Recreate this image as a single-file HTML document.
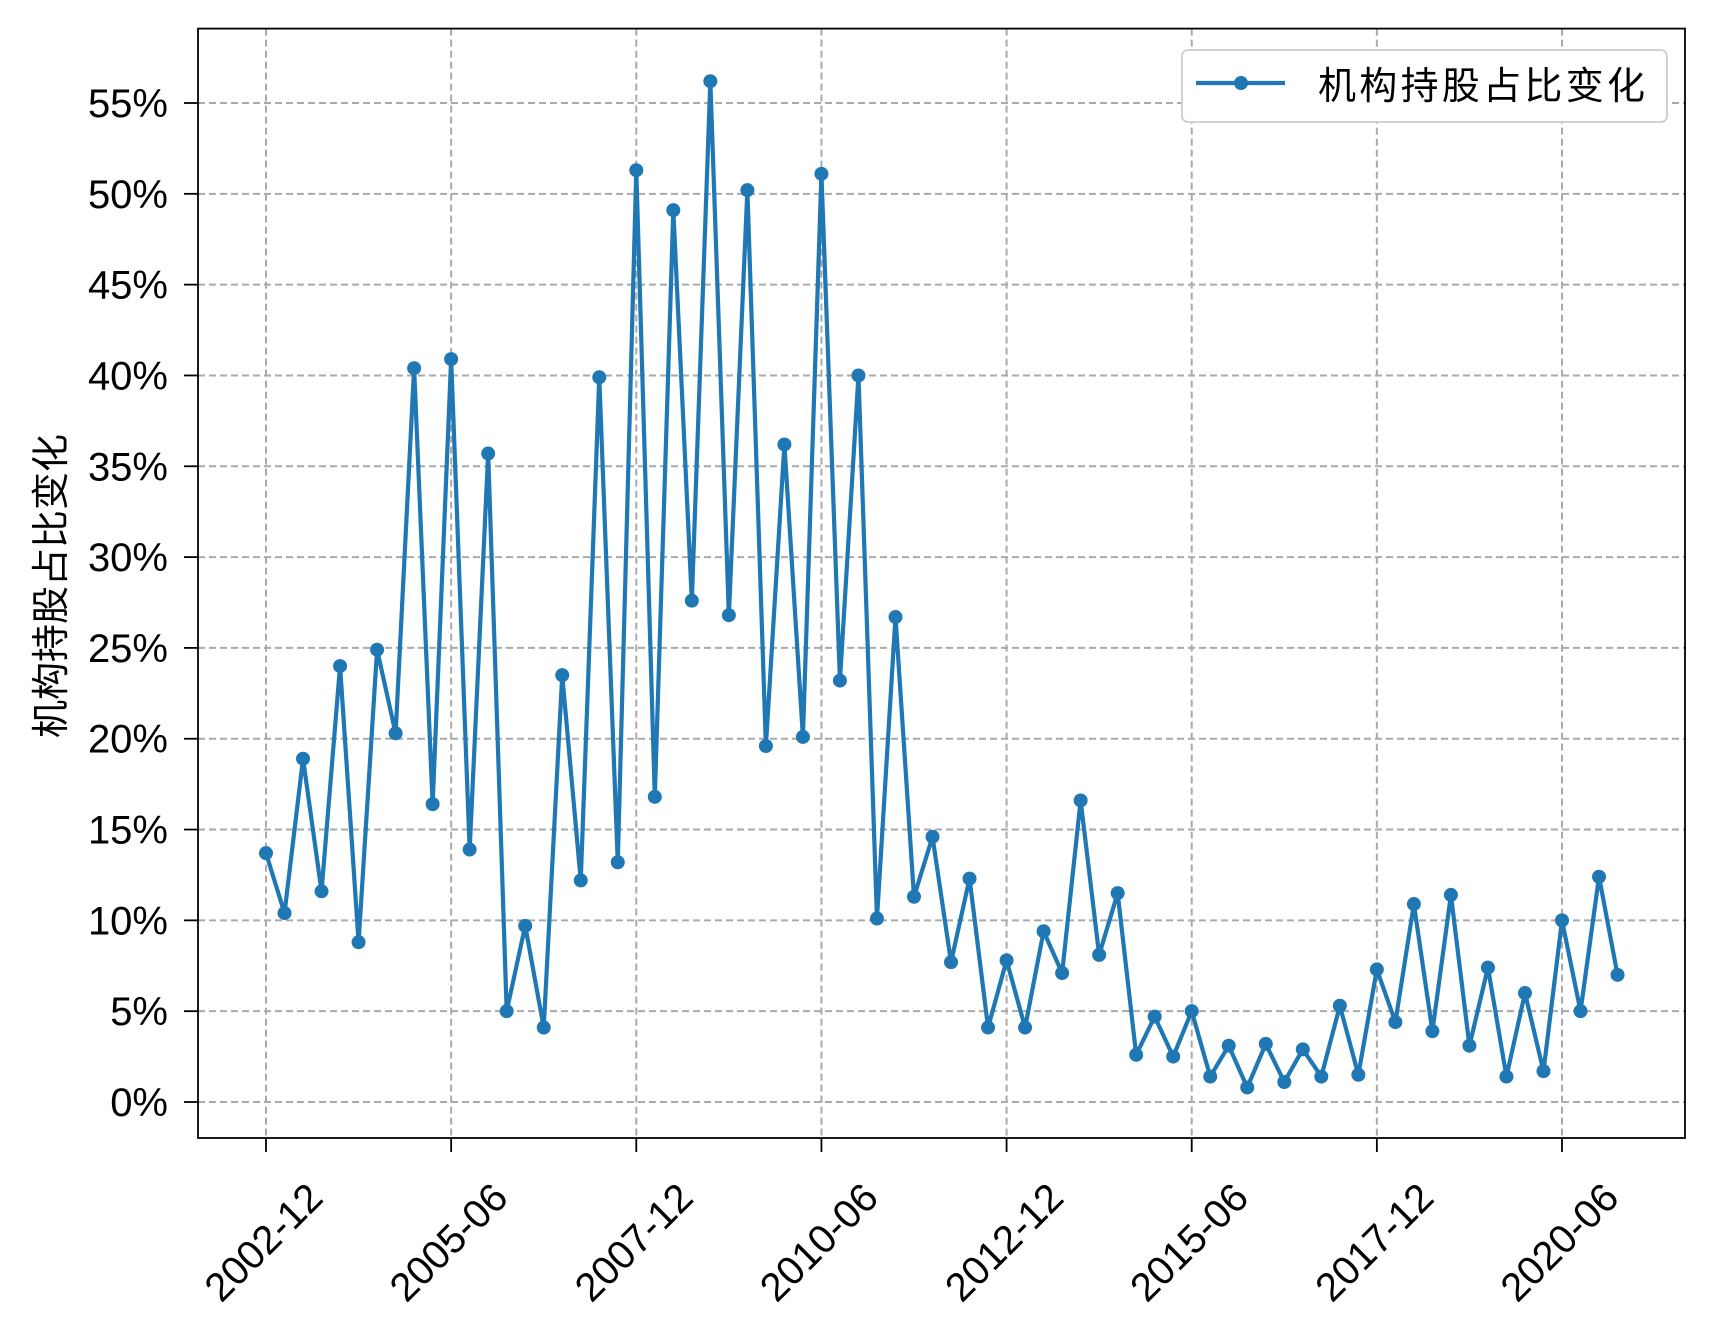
<!DOCTYPE html>
<html><head><meta charset="utf-8"><style>
body{margin:0;background:#fff}
text{font-family:"Liberation Sans","Noto Sans CJK SC",sans-serif;fill:#000}
</style></head><body>
<svg id="chart" width="1716" height="1332" xmlns="http://www.w3.org/2000/svg">
<rect width="1716" height="1332" fill="#fff"/>
<g id="grid"></g>
<g id="axes"></g>
<g id="series"></g>
<rect x="198" y="28.6" width="1487" height="1109.4" fill="none" stroke="#000" stroke-width="1.8"/>
<text transform="translate(64,586) rotate(-90)" text-anchor="middle" font-size="38">机构持股占比变化</text>
<g>
<rect x="1182" y="50" width="485" height="72" rx="6" fill="#fff" stroke="#ccc" stroke-width="1.8"/>
<line x1="1196" y1="83" x2="1285" y2="83" stroke="#1f77b4" stroke-width="4.2"/>
<circle cx="1241" cy="83" r="7" fill="#1f77b4"/>
<text x="1318" y="99" font-size="38" textLength="327">机构持股占比变化</text>
</g>
</svg>
<script>
const values=[13.7,10.4,18.9,11.6,24.0,8.8,24.9,20.3,40.4,16.4,40.9,13.9,35.7,5.0,9.7,4.1,23.5,12.2,39.9,13.2,51.3,16.8,49.1,27.6,56.2,26.8,50.2,19.6,36.2,20.1,51.1,23.2,40.0,10.1,26.7,11.3,14.6,7.7,12.3,4.1,7.8,4.1,9.4,7.1,16.6,8.1,11.5,2.6,4.7,2.5,5.0,1.4,3.1,0.8,3.2,1.1,2.9,1.4,5.3,1.5,7.3,4.4,10.9,3.9,11.4,3.1,7.4,1.4,6.0,1.7,10.0,5.0,12.4,7.0];
const xTickLabels=["2002-12","2005-06","2007-12","2010-06","2012-12","2015-06","2017-12","2020-06"];
const xTickIdx=[0,10,20,30,40,50,60,70];
const yTicks=[0,5,10,15,20,25,30,35,40,45,50,55];
const NS="http://www.w3.org/2000/svg";
const X=i=>266+i*(1562-266)/70;
const Y=v=>1102-v*(1102-103)/55;
function mk(t,a,p){const e=document.createElementNS(NS,t);for(const k in a)e.setAttribute(k,a[k]);p.appendChild(e);return e;}
const grid=document.getElementById('grid'),axes=document.getElementById('axes'),ser=document.getElementById('series');
yTicks.forEach(v=>{
 const g=mk('line',{x1:198,x2:1685,y1:Y(v),y2:Y(v),stroke:'#aaaaaa','stroke-width':2,'stroke-dasharray':'7,4'},grid);
 
 
 const t=mk('line',{x1:184,x2:198,y1:Y(v),y2:Y(v),stroke:'#000','stroke-width':1.8},axes);
 
 
 const l=mk('text',{x:168,y:Y(v)+14,'text-anchor':'end','font-size':40},axes);
 l.textContent=v+'%';
 
 
});
xTickIdx.forEach((ix,k)=>{
 const x=X(ix);
 const g=mk('line',{x1:x,x2:x,y1:28.6,y2:1138,stroke:'#aaaaaa','stroke-width':2,'stroke-dasharray':'7,4'},grid);
 
 
 const t=mk('line',{x1:x,x2:x,y1:1138,y2:1152,stroke:'#000','stroke-width':1.8},axes);
 
 
 const l=mk('text',{transform:`translate(${x+59},${1200}) rotate(-45)`,'text-anchor':'end','font-size':40},axes);
 l.textContent=xTickLabels[k];
 
 
});
const pl=mk('polyline',{points:values.map((v,i)=>X(i)+','+Y(v)).join(' '),fill:'none',stroke:'#1f77b4','stroke-width':4.2,'stroke-linejoin':'round'},ser);


values.forEach((v,i)=>{
 const c=mk('circle',{cx:X(i),cy:Y(v),r:7,fill:'#1f77b4'},ser);
 
 
});
</script>
</body></html>
